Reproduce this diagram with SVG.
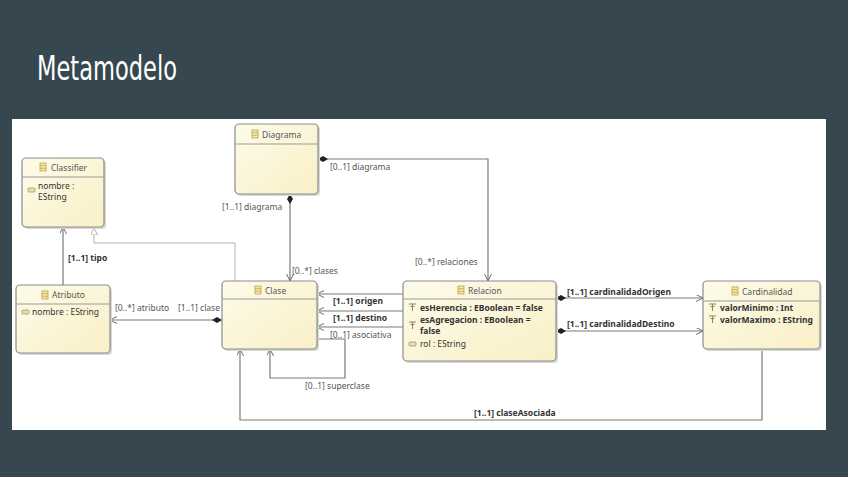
<svg xmlns="http://www.w3.org/2000/svg" width="848" height="477" viewBox="0 0 848 477">
<style>
.box{fill:url(#g);stroke:#8c8c8c;stroke-width:1.2}
.shadow{fill:#d8d8d8}
.sep{stroke:#9a9a9a;stroke-width:1}
.title{font-family:"Noto Sans","DejaVu Sans",sans-serif;font-size:8.5px;fill:#555}
.attr{font-family:"Noto Sans","DejaVu Sans",sans-serif;font-size:8.5px;fill:#333}
.b{font-weight:bold}
.lbl{font-family:"Noto Sans","DejaVu Sans",sans-serif;font-size:8.5px;fill:#555}
.lblb{font-family:"Noto Sans","DejaVu Sans",sans-serif;font-size:8.5px;fill:#333;font-weight:bold}
.con{fill:none;stroke:#7a7a7a;stroke-width:1.2}
.gen{fill:none;stroke:#b0b0b0;stroke-width:1}
.ico{fill:#f3e6a8;stroke:#b59b3c;stroke-width:0.7}
.aico{fill:#e9e0b0;stroke:#8f8f6f;stroke-width:0.7}
</style>
<defs>
<linearGradient id="g" x1="0" y1="0" x2="1" y2="1">
<stop offset="0" stop-color="#fdfbea"/>
<stop offset="1" stop-color="#f9f0c6"/>
</linearGradient>
<marker id="arr" markerUnits="userSpaceOnUse" markerWidth="10" markerHeight="10" refX="7" refY="3.5" orient="auto">
<path d="M0,0 L7,3.5 L0,7" fill="none" stroke="#6a6a6a" stroke-width="1"/>
</marker>
<marker id="dia" markerUnits="userSpaceOnUse" markerWidth="12" markerHeight="8" refX="0" refY="3" orient="auto">
<path d="M0,3 L5,0 L10,3 L5,6 Z" fill="#222"/>
</marker>
<marker id="tri" markerUnits="userSpaceOnUse" markerWidth="10" markerHeight="10" refX="7" refY="3.5" orient="auto">
<path d="M0,0 L7,3.5 L0,7 Z" fill="#fff" stroke="#a0a0a0" stroke-width="0.8"/>
</marker>
<g id="cls-icon">
<rect x="0" y="0" width="6" height="8" class="ico"/>
<line x1="0" y1="2.7" x2="6" y2="2.7" stroke="#b59b3c" stroke-width="0.6"/>
<line x1="0" y1="5.3" x2="6" y2="5.3" stroke="#b59b3c" stroke-width="0.6"/>
</g>
<g id="att-icon">
<rect x="0" y="0" width="7" height="4" rx="1" class="aico"/>
</g>
<g id="id-icon">
<path d="M0,0 H7 M3.5,0 V7 M1.5,2.5 H5.5" stroke="#8a8a4a" stroke-width="1" fill="none"/>
</g>
</defs>

<rect x="0" y="0" width="848" height="477" fill="#37474f"/>
<text x="37" y="80" font-family="'DejaVu Sans Condensed','DejaVu Sans',sans-serif" font-size="34" fill="#ffffff" textLength="140" lengthAdjust="spacingAndGlyphs">Metamodelo</text>
<rect x="12" y="119" width="814" height="311" fill="#ffffff"/>

<g id="connectors">
<path class="gen" d="M235,281 L235,243 L94,243 L94,228" marker-end="url(#tri)"/>
<path class="con" d="M290,194 L290,281" marker-start="url(#dia)" marker-end="url(#arr)"/>
<path class="con" d="M318,159 L488,159 L488,281" marker-start="url(#dia)" marker-end="url(#arr)"/>
<path class="con" d="M222,320 L110,320" marker-start="url(#dia)" marker-end="url(#arr)"/>
<path class="con" d="M63,285 L63,227" marker-end="url(#arr)"/>
<path class="con" d="M403,294 L317,294" marker-end="url(#arr)"/>
<path class="con" d="M403,311 L317,311" marker-end="url(#arr)"/>
<path class="con" d="M403,327 L317,327" marker-end="url(#arr)"/>
<path class="con" d="M317,339 L345,339 L345,378 L270,378 L270,349" marker-end="url(#arr)"/>
<path class="con" d="M556,298 L703,298" marker-start="url(#dia)" marker-end="url(#arr)"/>
<path class="con" d="M556,331 L703,331" marker-start="url(#dia)" marker-end="url(#arr)"/>
<path class="con" d="M762,349 L762,420 L240,420 L240,349" marker-end="url(#arr)"/>
<text class="lbl" x="330" y="170">[0..1] diagrama</text>
<text class="lbl" x="415" y="265">[0..*] relaciones</text>
<text class="lbl" x="222" y="210">[1..1] diagrama</text>
<text class="lbl" x="292" y="274">[0..*] clases</text>
<text class="lbl" x="115" y="311">[0..*] atributo</text>
<text class="lbl" x="178" y="311">[1..1] clase</text>
<text class="lblb" x="68" y="261">[1..1] tipo</text>
<text class="lblb" x="333" y="304">[1..1] origen</text>
<text class="lblb" x="333" y="321">[1..1] destino</text>
<text class="lbl" x="330" y="338">[0..1] asociativa</text>
<text class="lbl" x="305" y="389">[0..1] superclase</text>
<text class="lblb" x="567" y="295">[1..1] cardinalidadOrigen</text>
<text class="lblb" x="567" y="327">[1..1] cardinalidadDestino</text>
<text class="lblb" x="474" y="416">[1..1] claseAsociada</text>
</g>

<g id="node-classifier">
<rect class="shadow" x="24" y="160" width="82" height="69" rx="4"/>
<rect class="box" x="22" y="158" width="82" height="69" rx="4"/>
<line class="sep" x1="22" y1="177" x2="104" y2="177"/>
<use href="#cls-icon" x="40" y="163"/>
<text class="title" x="51" y="171">Classifier</text>
<use href="#att-icon" x="28" y="188"/>
<text class="attr" x="38" y="189">nombre :</text>
<text class="attr" x="38" y="200">EString</text>
</g>

<g id="node-diagrama">
<rect class="shadow" x="237" y="126" width="83" height="70" rx="4"/>
<rect class="box" x="235" y="124" width="83" height="70" rx="4"/>
<line class="sep" x1="235" y1="144" x2="318" y2="144"/>
<use href="#cls-icon" x="252" y="130"/>
<text class="title" x="262" y="138">Diagrama</text>
</g>

<g id="node-atributo">
<rect class="shadow" x="18" y="287" width="94" height="68" rx="4"/>
<rect class="box" x="16" y="285" width="94" height="68" rx="4"/>
<line class="sep" x1="16" y1="304" x2="110" y2="304"/>
<use href="#cls-icon" x="42" y="291"/>
<text class="title" x="52" y="298">Atributo</text>
<use href="#att-icon" x="22" y="310"/>
<text class="attr" x="32" y="315">nombre : EString</text>
</g>

<g id="node-clase">
<rect class="shadow" x="224" y="283" width="95" height="68" rx="4"/>
<rect class="box" x="222" y="281" width="95" height="68" rx="4"/>
<line class="sep" x1="222" y1="299" x2="317" y2="299"/>
<use href="#cls-icon" x="255" y="286"/>
<text class="title" x="265" y="294">Clase</text>
</g>

<g id="node-relacion">
<rect class="shadow" x="405" y="283" width="153" height="80" rx="4"/>
<rect class="box" x="403" y="281" width="153" height="80" rx="4"/>
<line class="sep" x1="403" y1="299" x2="556" y2="299"/>
<use href="#cls-icon" x="458" y="286"/>
<text class="title" x="468" y="294">Relacion</text>
<use href="#id-icon" x="409" y="304"/>
<text class="attr b" x="420" y="311">esHerencia : EBoolean = false</text>
<use href="#id-icon" x="409" y="322"/>
<text class="attr b" x="420" y="323">esAgregacion : EBoolean =</text>
<text class="attr b" x="420" y="334">false</text>
<use href="#att-icon" x="409" y="342"/>
<text class="attr" x="420" y="347">rol : EString</text>
</g>

<g id="node-cardinalidad">
<rect class="shadow" x="705" y="283" width="117" height="68" rx="4"/>
<rect class="box" x="703" y="281" width="117" height="68" rx="4"/>
<line class="sep" x1="703" y1="301" x2="820" y2="301"/>
<use href="#cls-icon" x="732" y="287"/>
<text class="title" x="742" y="295">Cardinalidad</text>
<use href="#id-icon" x="709" y="304"/>
<text class="attr b" x="720" y="311">valorMinimo : Int</text>
<use href="#id-icon" x="709" y="316"/>
<text class="attr b" x="720" y="323">valorMaximo : EString</text>
</g>
</svg>
